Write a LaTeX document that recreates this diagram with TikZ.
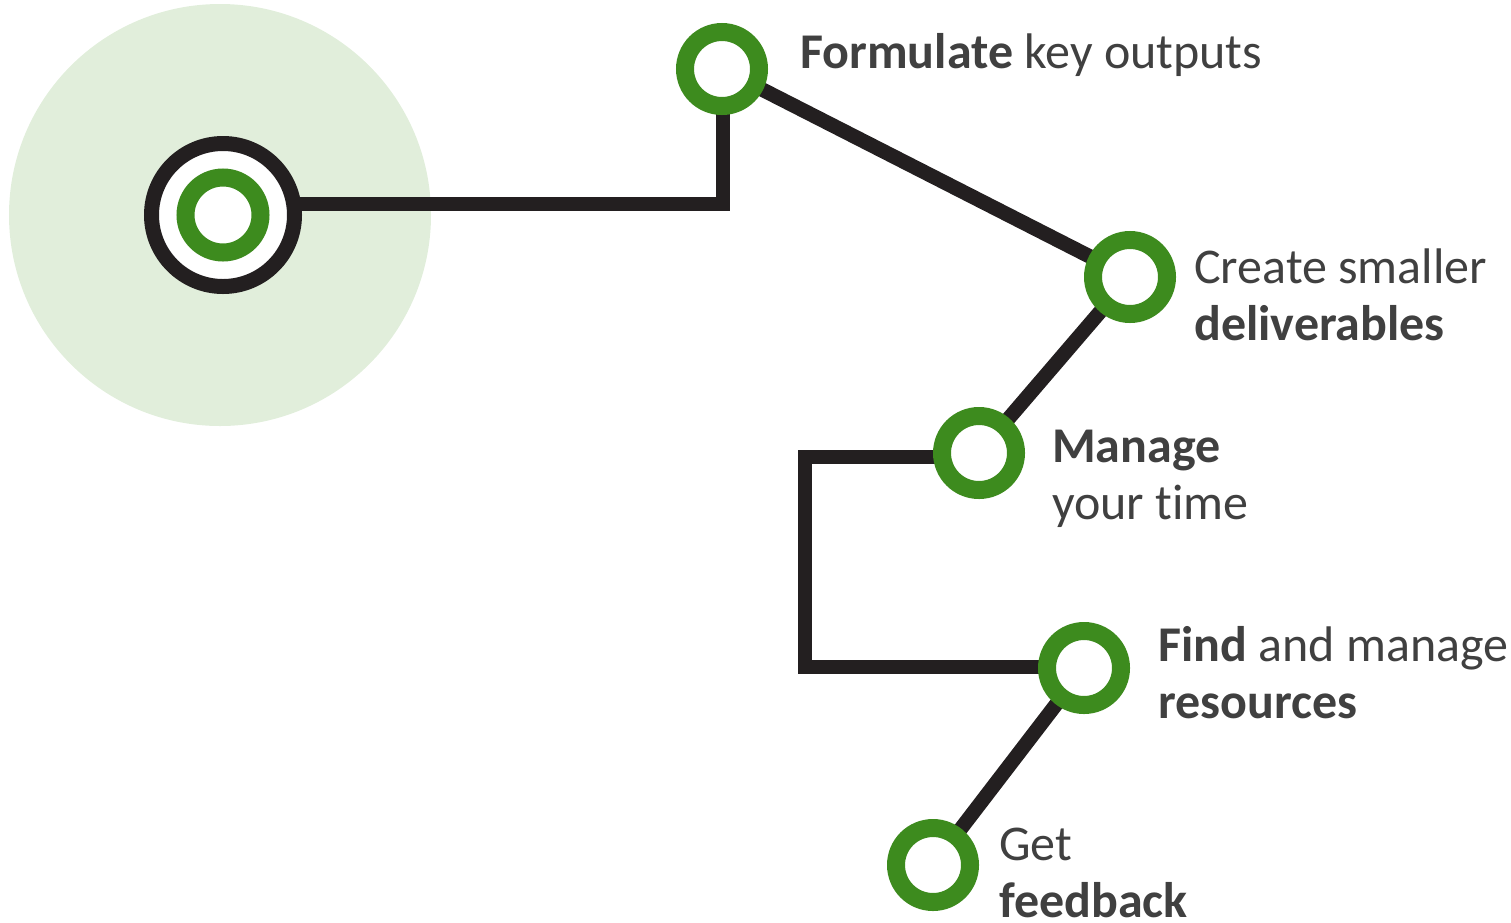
\documentclass[tikz,border=0pt]{standalone}
\usepackage{fontspec}
\setmainfont{Carlito}[RawFeature={-liga;-clig;-calt;-dlig}]
\definecolor{ringgreen}{RGB}{61,139,30}
\definecolor{lineblack}{RGB}{35,31,32}
\definecolor{halo}{RGB}{225,238,219}
\definecolor{txt}{RGB}{64,64,64}
\pgfdeclarelayer{bg}
\pgfsetlayers{bg,main}
\tikzset{
  ring/.style={circle, draw=ringgreen, line width=18pt, fill=white, minimum size=74pt, inner sep=0pt},
  startring/.style={circle, draw=lineblack, line width=15pt, fill=white, minimum size=143pt, inner sep=0pt},
  conn/.style={draw=lineblack, line width=14.5pt},
  lbl/.style={anchor=base west, inner sep=0pt, text=txt, font=\fontsize{50}{57}\selectfont}
}
\begin{document}
\begin{tikzpicture}[x=1pt,y=-1pt]
\useasboundingbox (0,0) rectangle (1511,922);
% nodes
\node[startring] (start) at (223,215) {};
\node[ring, minimum size=75pt] (startin) at (223,215) {};
\node[ring] (n1) at (722,69) {};
\node[ring] (n2) at (1130,277) {};
\node[ring] (n3) at (979,453) {};
\node[ring] (n4) at (1084,668) {};
\node[ring] (n5) at (933,865) {};
\coordinate (c1) at (723,204);
\coordinate (c2) at (805,457);
\coordinate (c3) at (805,667);
% labels
\node[lbl] (t1) at (800,68) {\textbf{Formulate} key outputs};
\node[lbl] (t2a) at (1194,283) {Create smaller};
\node[lbl] (t2b) at (1194,340) {\textbf{deliverables}};
\node[lbl] (t3a) at (1052,462) {\textbf{Manage}};
\node[lbl] (t3b) at (1052,519) {your t\kern0pt ime};
\node[lbl] (t4a) at (1158,661) {\textbf{Find} and manage};
\node[lbl] (t4b) at (1158,718) {\textbf{resources}};
\node[lbl] (t5a) at (999,860) {Get};
\node[lbl] (t5b) at (999,917) {\textbf{feedback}};
\begin{pgfonlayer}{bg}
\fill[halo] (220,215) circle[radius=211];
\draw[conn] (start.center |- c1) -- (c1) -- (c1 |- n1.center);
\draw[conn] (n1.center) -- (n2.center);
\draw[conn] (n2.center) -- (n3.center);
\draw[conn] (n3.center |- c2) -- (c2) -- (c3) -- (n4.center |- c3);
\draw[conn] (n4.center) -- (n5.center);
\end{pgfonlayer}
\end{tikzpicture}
\end{document}
